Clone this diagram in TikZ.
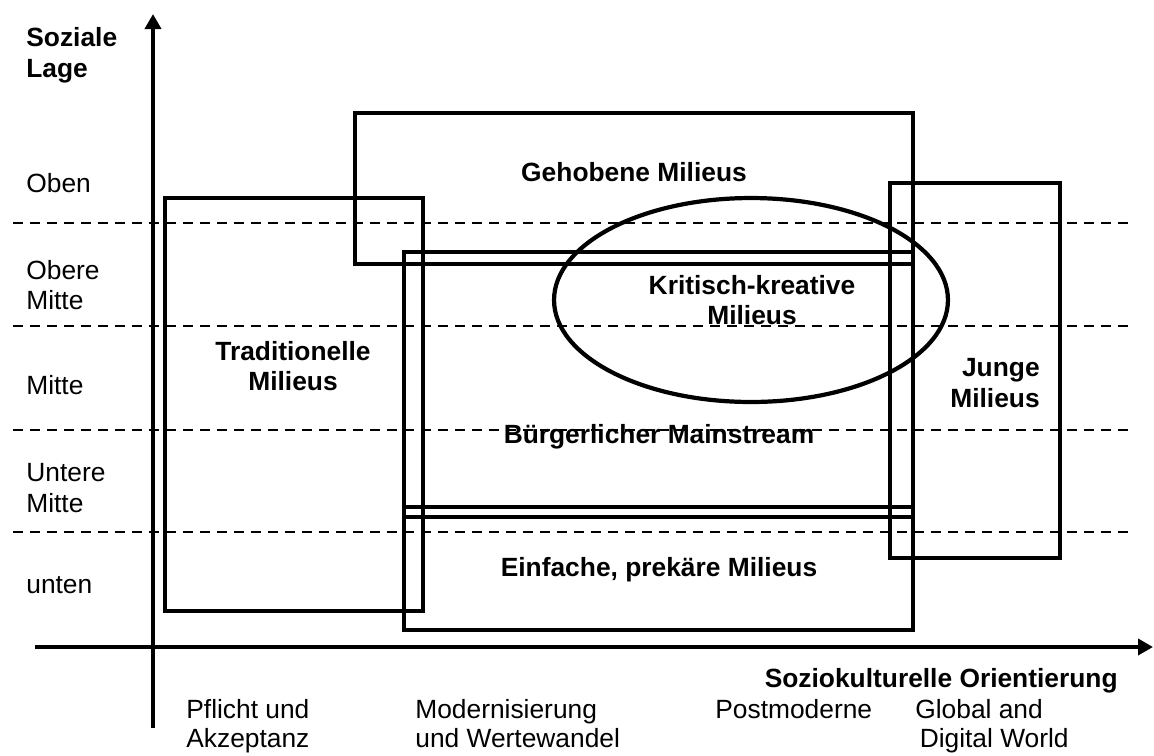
\documentclass[tikz,border=0pt]{standalone}
\usepackage{fontspec}
\setmainfont{Liberation Sans}
\usetikzlibrary{arrows.meta,positioning}
\tikzset{
    %Define standard arrow tip
    >={Triangle[length=0.3cm,width=0.32cm]},
    %Define style for milieu boxes
    milieu/.style={
           draw=black,
           line width=2.6pt},
    %Define style for bold labels
    titel/.style={
           font=\bfseries\fontsize{15}{17.5}\selectfont,
           align=center,
           inner sep=0pt},
    %Define style for plain labels
    lage/.style={
           font=\fontsize{15}{17.5}\selectfont,
           align=left,
           anchor=west,
           inner sep=0pt},
    %Define style for the labels under the axis
    orient/.style={
           lage,
           anchor=north west,
           font=\fontsize{15}{16.5}\selectfont},
    % Define line styles
    raster/.style={
           draw=black,
           line width=0.8pt,
           dash pattern=on 0.2cm off 0.14cm},
    achse/.style={
           ->,
           line width=2.8pt}
}
\begin{document}
\begin{tikzpicture}[x=0.02cm,y=-0.02cm]
\useasboundingbox (0,0) rectangle (1154,755);
 %grid lines
\foreach \y in {223,326,430,532}
    \draw[raster] (13,\y) -- (1128,\y);
 %axes
\coordinate (yfuss) at (153,728);
\coordinate (yspitze) at (153,14);
\coordinate (xfuss) at (35,647);
\coordinate (xspitze) at (1153,647);
\draw[achse] (yfuss) -- (yspitze);
\draw[achse] (xfuss) -- (xspitze);
 %milieus
\draw[milieu] (355,113) rectangle (913,264);
\draw[milieu] (165,198) rectangle (423,611);
\draw[milieu] (404,252) rectangle (913,517);
\draw[milieu] (404,507) rectangle (913,630);
\draw[milieu] (890,183) rectangle (1060,558);
\draw[line width=2.4pt] (751,300) ellipse [x radius=3.94cm, y radius=2.04cm];
\node[titel](gehoben) at (634,172){Gehobene Milieus};
\node[titel](tradi) at (293,366){Traditionelle\\Milieus};
\node[titel](kritisch) at (752,300){Kritisch-kreative\\Milieus};
\node[titel](buerger) at (659,437){Bürgerlicher Mainstream};
\node[titel](einfach) at (659,570){Einfache, prekäre Milieus};
\node[titel, align=right](junge) at (995,383){Junge\\Milieus};
 %social position
\node[titel, anchor=west, align=left](lage) at (26,55){Soziale\\Lage};
\node[lage](oben) at (26,183){Oben};
\node[lage](obmitte) at (26,285){Obere\\Mitte};
\node[lage](mitte) at (26,385){Mitte};
\node[lage](unmitte) at (26,488){Untere\\Mitte};
\node[lage](unten) at (26,585){unten};
 %orientation
\node[titel, anchor=east](orient) at (1118,681){Soziokulturelle Orientierung};
\node[orient](pflicht) at (186,699){Pflicht und\\Akzeptanz};
\node[orient](modern) at (415,699){Modernisierung\\und Wertewandel};
\node[orient](postmod) at (715,699){Postmoderne};
\node[orient](global) at (915,699){Global and\\\,Digital World};
\end{tikzpicture}
\end{document}
